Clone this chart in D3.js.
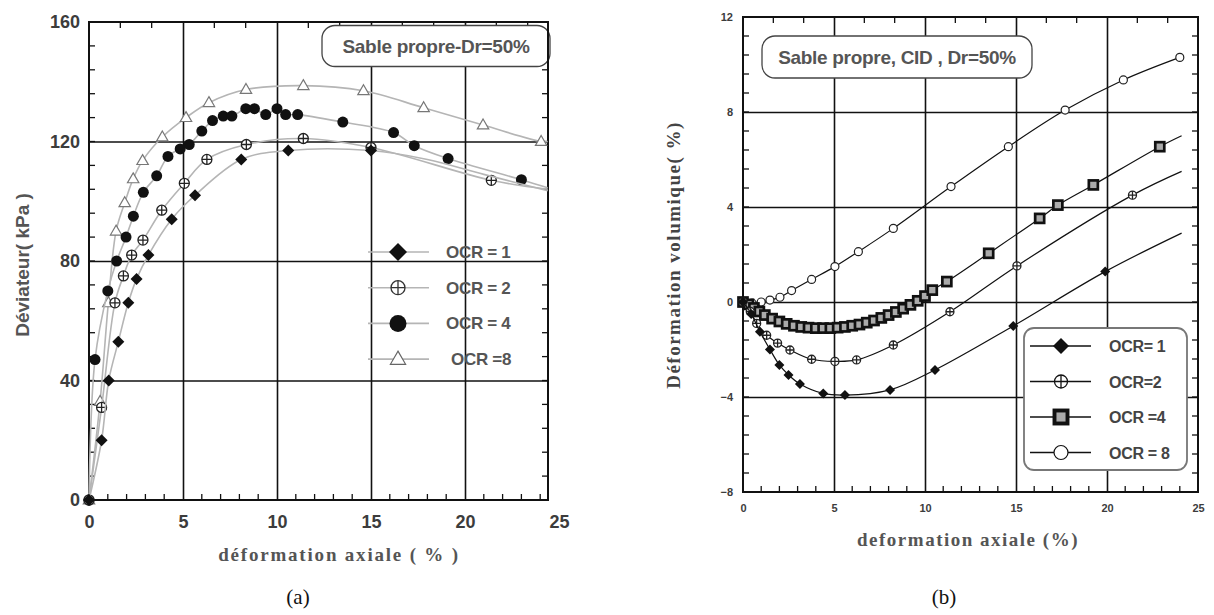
<!DOCTYPE html>
<html>
<head>
<meta charset="utf-8">
<script src="https://cdn.jsdelivr.net/npm/d3@7/dist/d3.min.js"></script>
<style>
  body { margin: 0; background: #fff; }
  svg { display: block; }
  .sans { font-family: "Liberation Sans", Arial, sans-serif; font-weight: bold; }
  .serif { font-family: "Liberation Serif", "Times New Roman", serif; }
</style>
</head>
<body>
<svg id="chart" width="1214" height="615"></svg>
<script>
// ---- (a) Déviateur vs déformation axiale : points marqués + fin de courbe
const devOcr1 = [[0,0],[0.67,20],[1.05,40],[1.56,53],[2.09,66],[2.53,74],[3.16,82],[4.4,94],[5.64,102],[8.1,114],[10.6,117],[15,117]];
const devOcr1Tail = [[18,114],[21,109],[24.4,103.5]];
const devOcr2 = [[0,0],[0.67,31],[1.38,66],[1.83,75],[2.27,82],[2.87,87],[3.87,97],[5.07,106],[6.27,114],[8.37,119],[11.4,121],[15,118],[21.4,107]];
const devOcr2Tail = [[24.4,104]];
const devOcr4 = [[0,0],[0.32,47],[1.0,70],[1.47,80],[1.97,88],[2.36,95],[2.89,103],[3.6,108.5],[4.2,115],[4.85,117.5],[5.33,119],[6.0,123.5],[6.57,127],[7.14,128.5],[7.6,128.5],[8.34,131],[8.8,131],[9.4,129],[10.0,131],[10.46,129],[11.1,129],[13.5,126.5],[16.2,123],[17.3,118.6],[19.1,114.3],[23.0,107.2]];
const devOcr4Tail = [[24.4,104.5]];
const devOcr8 = [[0,0],[0.59,33],[1.03,66],[1.44,90],[1.9,99.5],[2.35,107.5],[2.85,113.6],[3.9,121.5],[5.16,128],[6.38,133],[8.35,137.4],[11.4,138.7],[14.6,137],[17.8,131.3],[20.96,125.5],[24.05,120]];
const devOcr8Tail = [[24.4,120]];

// ---- (b) Déformation volumique vs déformation axiale
const volOcr1 = [[0,0],[0.45,-0.5],[0.93,-1.25],[1.48,-2.0],[2.0,-2.65],[2.5,-3.07],[3.13,-3.45],[4.41,-3.85],[5.6,-3.92],[8.08,-3.7],[10.55,-2.86],[14.85,-1.01],[19.9,1.28]];
const volOcr1Tail = [[24.1,2.9]];
const volOcr2 = [[0,0],[0.4,-0.4],[0.75,-0.9],[1.3,-1.4],[1.9,-1.73],[2.58,-2.02],[3.77,-2.41],[5.05,-2.5],[6.24,-2.44],[8.26,-1.81],[11.37,-0.41],[15.05,1.52],[21.4,4.5]];
const volOcr2Tail = [[24.1,5.5]];
const volOcr4 = [[0,0],[0.3,-0.1],[0.6,-0.25],[0.9,-0.4],[1.2,-0.55],[1.6,-0.7],[2.0,-0.82],[2.4,-0.92],[2.8,-1.0],[3.2,-1.05],[3.6,-1.08],[4.0,-1.1],[4.4,-1.1],[4.8,-1.1],[5.2,-1.08],[5.6,-1.05],[6.0,-1.0],[6.4,-0.95],[6.8,-0.87],[7.2,-0.78],[7.6,-0.67],[8.0,-0.55],[8.4,-0.42],[8.8,-0.28],[9.2,-0.12],[9.6,0.05],[10.0,0.25],[10.4,0.5],[11.2,0.86],[13.5,2.05],[16.3,3.52],[17.3,4.08],[19.25,4.93],[22.9,6.54]];
const volOcr4Tail = [[24.1,7.0]];
const volOcr8 = [[0,0],[0.5,-0.05],[1.0,0],[1.48,0.08],[2.03,0.2],[2.67,0.48],[3.77,0.95],[5.05,1.49],[6.34,2.12],[8.26,3.1],[11.43,4.86],[14.58,6.54],[17.7,8.08],[20.9,9.35],[24.0,10.3]];

const xTicks = [0, 5, 10, 15, 20, 25];
const devTicks = [0, 40, 80, 120, 160];
const volTicks = [-8, -4, 0, 4, 8, 12];
const devLabels = ['OCR = 1', 'OCR = 2', 'OCR = 4', 'OCR =8'];
const volLabels = ['OCR= 1', 'OCR=2', 'OCR =4', 'OCR = 8'];

const svg = d3.select('#chart');

// --- marqueurs
function marker(g, type, x, y, r, color) {
  const c = color || '#111';
  if (type === 'diamond') {
    g.append('path').attr('d', `M${x},${y - r}L${x + r},${y}L${x},${y + r}L${x - r},${y}Z`).attr('fill', c);
  } else if (type === 'dot') {
    g.append('circle').attr('cx', x).attr('cy', y).attr('r', r).attr('fill', c);
  } else if (type === 'cross') {
    g.append('circle').attr('cx', x).attr('cy', y).attr('r', r).attr('fill', '#fff').attr('stroke', c).attr('stroke-width', 1.3);
    g.append('path').attr('d', `M${x - r},${y}H${x + r}M${x},${y - r}V${y + r}`).attr('stroke', c).attr('stroke-width', 1.3);
  } else if (type === 'tri') {
    g.append('path').attr('d', `M${x},${y - r}L${x + r * 0.95},${y + r * 0.65}L${x - r * 0.95},${y + r * 0.65}Z`)
      .attr('fill', '#fff').attr('stroke', c).attr('stroke-width', 1.2);
  } else if (type === 'square') {
    g.append('rect').attr('x', x - r).attr('y', y - r).attr('width', 2 * r).attr('height', 2 * r)
      .attr('fill', '#aaa').attr('stroke', c).attr('stroke-width', r * 0.6);
  } else if (type === 'ring') {
    g.append('circle').attr('cx', x).attr('cy', y).attr('r', r).attr('fill', '#fff').attr('stroke', c).attr('stroke-width', 1.2);
  }
}

// --- cadre, grille, graduations
function panel(x, y, opt) {
  const g = svg.append('g');
  const [x0, x1] = [x(0), opt.xRight];
  const [yTop, yBot] = [y.range()[1], y.range()[0]];
  g.append('rect').attr('x', x0).attr('y', yTop).attr('width', x1 - x0).attr('height', yBot - yTop).attr('fill', '#fff');

  // grille majeure
  g.append('g').attr('transform', `translate(0,${yBot})`)
    .call(d3.axisBottom(x).tickValues(xTicks.filter(t => t > 0 && x(t) < x1 - 2)).tickSize(-(yBot - yTop)).tickFormat(''))
    .call(a => a.select('.domain').remove())
    .call(a => a.selectAll('line').attr('stroke', '#111').attr('stroke-width', 1.6));
  g.append('g').attr('transform', `translate(${x0},0)`)
    .call(d3.axisLeft(y).tickValues(opt.yTicks.slice(1, -1)).tickSize(-(x1 - x0)).tickFormat(''))
    .call(a => a.select('.domain').remove())
    .call(a => a.selectAll('line').attr('stroke', '#111').attr('stroke-width', 1.6));

  // petites graduations
  const minor = g.append('g').attr('stroke', '#111').attr('stroke-width', 1.3);
  d3.range(0, 25, 1).filter(v => v % 5 && x(v) < x1).forEach(v => {
    minor.append('line').attr('x1', x(v)).attr('x2', x(v)).attr('y1', yBot).attr('y2', yBot - 6);
  });
  d3.range(0, 25, 5 / 3).filter(v => Math.abs(v % 5) > 0.1 && Math.abs(v % 5 - 5) > 0.1 && x(v) < x1).forEach(v => {
    minor.append('line').attr('x1', x(v)).attr('x2', x(v)).attr('y1', yTop).attr('y2', yTop + 6);
  });
  const yStep = opt.yMinor;
  d3.range(y.domain()[0], y.domain()[1], yStep).forEach(v => {
    minor.append('line').attr('x1', x0).attr('x2', x0 + 6).attr('y1', y(v)).attr('y2', y(v));
    minor.append('line').attr('x1', x1).attr('x2', x1 - 6).attr('y1', y(v)).attr('y2', y(v));
  });

  g.append('rect').attr('x', x0).attr('y', yTop).attr('width', x1 - x0).attr('height', yBot - yTop)
    .attr('fill', 'none').attr('stroke', '#111').attr('stroke-width', 2);

  // libellés
  g.append('g').attr('transform', `translate(0,${yBot})`)
    .call(d3.axisBottom(x).tickValues(xTicks).tickSize(0).tickPadding(opt.xPad))
    .call(a => a.select('.domain').remove())
    .call(a => a.selectAll('text').attr('class', 'sans').attr('font-size', opt.tickFont).attr('fill', '#3c3c3c'));
  g.append('g').attr('transform', `translate(${x0},0)`)
    .call(d3.axisLeft(y).tickValues(opt.yTicks).tickSize(0).tickPadding(opt.yPad))
    .call(a => a.select('.domain').remove())
    .call(a => a.selectAll('text').attr('class', 'sans').attr('font-size', opt.tickFont).attr('fill', '#3c3c3c'));
  return g;
}

function series(g, x, y, pts, tail, type, r, lineColor, lineW, mColor) {
  const line = d3.line().x(d => x(d[0])).y(d => y(d[1])).curve(d3.curveCatmullRom.alpha(0.5));
  g.append('path').datum(pts.concat(tail)).attr('d', line)
    .attr('fill', 'none').attr('stroke', lineColor).attr('stroke-width', lineW);
  const mg = g.append('g');
  pts.forEach(d => marker(mg, type, x(d[0]), y(d[1]), r, mColor));
}

function titleBox(cx, cy, w, h, text, size) {
  svg.append('rect').attr('x', cx - w / 2).attr('y', cy - h / 2).attr('width', w).attr('height', h)
    .attr('rx', 13).attr('fill', '#fff').attr('stroke', '#444').attr('stroke-width', 1.3);
  svg.append('text').attr('class', 'sans').attr('x', cx).attr('y', cy + size * 0.36)
    .attr('text-anchor', 'middle').attr('font-size', size).attr('letter-spacing', -0.3).attr('fill', '#555').text(text);
}

// =========== (a)
const xA = d3.scaleLinear().domain([0, 25]).range([89, 559]);
const yA = d3.scaleLinear().domain([0, 160]).range([500, 22]);
const gA = panel(xA, yA, { xRight: 548, yTicks: devTicks, yMinor: 8, tickFont: 18, xPad: 15, yPad: 9 });
titleBox(436, 46, 228, 41, 'Sable propre-Dr=50%', 19);
// redessine le bord droit par-dessus l'encadré
svg.append('line').attr('x1', 548).attr('x2', 548).attr('y1', 22).attr('y2', 500).attr('stroke', '#111').attr('stroke-width', 2);

const plotA = svg.append('g');
series(plotA, xA, yA, devOcr8, devOcr8Tail, 'tri', 6, '#b5b5b5', 1.6, '#777');
series(plotA, xA, yA, devOcr4, devOcr4Tail, 'dot', 5.5, '#b5b5b5', 1.6, '#111');
series(plotA, xA, yA, devOcr2, devOcr2Tail, 'cross', 5, '#b5b5b5', 1.6, '#222');
series(plotA, xA, yA, devOcr1, devOcr1Tail, 'diamond', 6, '#b5b5b5', 1.6, '#111');

const legA = svg.append('g');
const legTypesA = [['diamond', 9, '#111'], ['cross', 7, '#333'], ['dot', 8.5, '#111'], ['tri', 8, '#666']];
devLabels.forEach((lab, i) => {
  const yy = 252 + i * 35.7;
  legA.append('line').attr('x1', 368).attr('x2', 429).attr('y1', yy).attr('y2', yy).attr('stroke', '#b5b5b5').attr('stroke-width', 1.6);
  marker(legA, legTypesA[i][0], 398, yy, legTypesA[i][1], legTypesA[i][2]);
  legA.append('text').attr('class', 'sans').attr('x', i === 3 ? 451 : 446).attr('y', yy + 6)
    .attr('font-size', 17).attr('letter-spacing', -0.3).attr('fill', '#555').text(lab);
});

svg.append('text').attr('class', 'sans').attr('transform', 'translate(29,265) rotate(-90)')
  .attr('text-anchor', 'middle').attr('font-size', 19).attr('fill', '#555').text('Déviateur( kPa )');
svg.append('text').attr('class', 'serif').attr('x', 339).attr('y', 561).attr('text-anchor', 'middle')
  .attr('font-size', 19).attr('letter-spacing', 1.8).attr('font-weight', 'bold').attr('fill', '#555').text('déformation axiale ( % )');
svg.append('text').attr('class', 'serif').attr('x', 298).attr('y', 604).attr('text-anchor', 'middle')
  .attr('font-size', 21).attr('fill', '#111').text('(a)');

// =========== (b)
const xB = d3.scaleLinear().domain([0, 25]).range([743, 1198]);
const yB = d3.scaleLinear().domain([-8, 12]).range([492, 17]);
const gB = panel(xB, yB, { xRight: 1198, yTicks: volTicks, yMinor: 0.8, tickFont: 11, xPad: 12, yPad: 10 });
titleBox(897, 57, 270, 42, 'Sable propre, CID , Dr=50%', 19);

const plotB = svg.append('g');
series(plotB, xB, yB, volOcr8, [], 'ring', 4, '#111', 1.2, '#222');
series(plotB, xB, yB, volOcr4, volOcr4Tail, 'square', 4.5, '#111', 1.2, '#111');
series(plotB, xB, yB, volOcr2, volOcr2Tail, 'cross', 4, '#111', 1.2, '#222');
series(plotB, xB, yB, volOcr1, volOcr1Tail, 'diamond', 5, '#111', 1.2, '#111');

const legB = svg.append('g');
legB.append('rect').attr('x', 1024).attr('y', 328).attr('width', 163).attr('height', 142).attr('rx', 10)
  .attr('fill', '#fff').attr('stroke', '#777').attr('stroke-width', 1.8);
const legTypesB = [['diamond', 8], ['cross', 6.5], ['square', 6.5], ['ring', 7]];
volLabels.forEach((lab, i) => {
  const yy = 346 + i * 35.5;
  legB.append('line').attr('x1', 1030).attr('x2', 1091).attr('y1', yy).attr('y2', yy).attr('stroke', '#111').attr('stroke-width', 1.5);
  marker(legB, legTypesB[i][0], 1061, yy, legTypesB[i][1], '#111');
  legB.append('text').attr('class', 'sans').attr('x', 1109).attr('y', yy + 6)
    .attr('font-size', 16).attr('letter-spacing', -0.3).attr('fill', '#444').text(lab);
});

svg.append('text').attr('class', 'serif').attr('transform', 'translate(680,255) rotate(-90)')
  .attr('text-anchor', 'middle').attr('font-size', 19).attr('letter-spacing', 1.5).attr('font-weight', 'bold').attr('fill', '#444').text('Déformation volumique( %)');
svg.append('text').attr('class', 'serif').attr('x', 968).attr('y', 546).attr('text-anchor', 'middle')
  .attr('font-size', 19).attr('letter-spacing', 1.5).attr('font-weight', 'bold').attr('fill', '#555').text('deformation axiale (%)');
svg.append('text').attr('class', 'serif').attr('x', 944).attr('y', 604).attr('text-anchor', 'middle')
  .attr('font-size', 21).attr('fill', '#111').text('(b)');
</script>
</body>
</html>
